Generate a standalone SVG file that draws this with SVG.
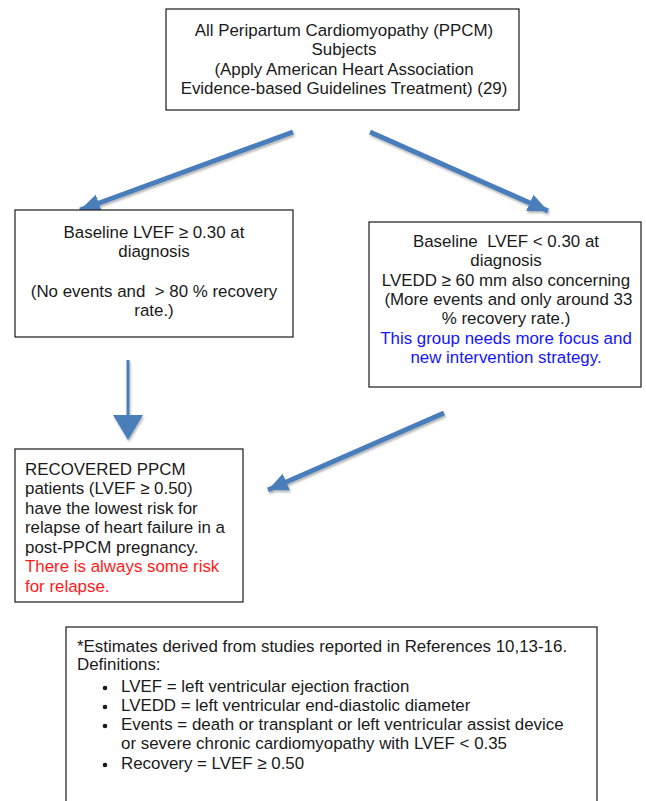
<svg xmlns="http://www.w3.org/2000/svg" width="646" height="801" viewBox="0 0 646 801">
<style>
  .box { fill: #ffffff; stroke: #1a1a1a; stroke-width: 1.2; }
  text { font-family: "Liberation Sans", Arial, sans-serif; font-size: 16.9px; fill: #1a1a1a; }
  .c { text-anchor: middle; }
  .blue { fill: #1515ff; }
  .red { fill: #ff1a1a; }
  .arrow { stroke: #4a7ebb; stroke-width: 5; fill: none; marker-end: url(#head); }
</style>
<defs>
  <marker id="head" markerUnits="userSpaceOnUse" markerWidth="22" markerHeight="22" viewBox="0 0 22 22" refX="20" refY="11" orient="auto">
    <path d="M0,2 L20,11 L0,20 Z" fill="#4a7ebb"/>
  </marker>
  <filter id="shadow" x="-10%" y="-10%" width="120%" height="130%">
    <feDropShadow dx="1" dy="2" stdDeviation="0.8" flood-color="#000" flood-opacity="0.3"/>
  </filter>
</defs>

<g id="connectors" filter="url(#shadow)">
  <line class="arrow" x1="293" y1="132" x2="80" y2="210"/>
  <line class="arrow" x1="370" y1="132" x2="548" y2="211"/>
  <g id="down-arrow">
    <line x1="128" y1="360" x2="128" y2="416" stroke="#4a7ebb" stroke-width="3"/>
    <polygon points="113,415 143,415 128,440" fill="#4a7ebb"/>
  </g>
  <line class="arrow" x1="444" y1="413" x2="268" y2="490"/>
</g>

<g id="node-all">
  <rect class="box" x="166" y="9" width="353" height="101"/>
  <text class="c" x="344" y="36">All Peripartum Cardiomyopathy (PPCM)</text>
  <text class="c" x="344" y="55">Subjects</text>
  <text class="c" x="344" y="75">(Apply American Heart Association</text>
  <text class="c" x="344" y="94">Evidence-based Guidelines Treatment) (29)</text>
</g>

<g id="node-high">
  <rect class="box" x="15" y="210" width="278" height="127"/>
  <text class="c" x="154" y="238">Baseline LVEF ≥ 0.30 at</text>
  <text class="c" x="154" y="257">diagnosis</text>
  <text class="c" x="154" y="297" xml:space="preserve">(No events and  &gt; 80 % recovery</text>
  <text class="c" x="154" y="316">rate.)</text>
</g>

<g id="node-low">
  <rect class="box" x="369" y="222" width="272" height="165"/>
  <text class="c" x="506" y="247" xml:space="preserve">Baseline  LVEF &lt; 0.30 at</text>
  <text class="c" x="506" y="266">diagnosis</text>
  <text class="c" x="506" y="286">LVEDD ≥ 60 mm also concerning</text>
  <text class="c" x="506" y="305" xml:space="preserve"> (More events and only around 33</text>
  <text class="c" x="506" y="324">% recovery rate.)</text>
  <text class="c blue" x="506" y="344">This group needs more focus and</text>
  <text class="c blue" x="506" y="363">new intervention strategy.</text>
</g>

<g id="node-recovered">
  <rect class="box" x="15" y="449" width="228" height="153"/>
  <text x="25" y="475">RECOVERED PPCM</text>
  <text x="25" y="494">patients (LVEF ≥ 0.50)</text>
  <text x="25" y="514">have the lowest risk for</text>
  <text x="25" y="533">relapse of heart failure in a</text>
  <text x="25" y="553">post-PPCM pregnancy.</text>
  <text class="red" x="25" y="572">There is always some risk</text>
  <text class="red" x="25" y="592">for relapse.</text>
</g>

<g id="node-notes">
  <rect class="box" x="66" y="627" width="531" height="190"/>
  <text x="77" y="652">*Estimates derived from studies reported in References 10,13-16.</text>
  <text x="77" y="670">Definitions:</text>
  <circle cx="105" cy="688" r="2.3" fill="#1a1a1a"/>
  <text x="121" y="692">LVEF = left ventricular ejection fraction</text>
  <circle cx="105" cy="707" r="2.3" fill="#1a1a1a"/>
  <text x="121" y="711">LVEDD = left ventricular end-diastolic diameter</text>
  <circle cx="105" cy="726" r="2.3" fill="#1a1a1a"/>
  <text x="121" y="730">Events = death or transplant or left ventricular assist device</text>
  <text x="121" y="749">or severe chronic cardiomyopathy with LVEF &lt; 0.35</text>
  <circle cx="105" cy="765" r="2.3" fill="#1a1a1a"/>
  <text x="121" y="769">Recovery = LVEF ≥ 0.50</text>
</g>
</svg>
